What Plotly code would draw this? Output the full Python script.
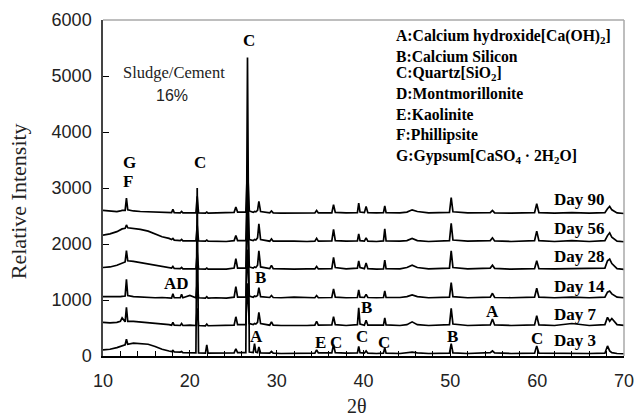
import plotly.graph_objects as go

two_theta = [10.0, 10.8, 11.6, 12.0, 12.2, 12.55, 12.7, 12.85, 13.5, 14.3,
             15.2, 16.0, 16.8, 17.6, 17.9, 18.05, 18.2, 18.9, 19.05, 19.2,
             20.0, 20.7, 20.85, 21.0, 21.8, 21.95, 22.1, 23.0, 24.2, 25.1,
             25.3, 25.5, 26.45, 26.64, 26.85, 27.3, 27.45, 27.6, 27.8, 27.95,
             28.15, 29.2, 29.4, 29.6, 30.5, 32.0, 33.5, 34.4, 34.6, 34.8,
             36.35, 36.55, 36.75, 38.0, 39.3, 39.45, 39.6, 40.1, 40.3, 40.5,
             41.5, 42.3, 42.45, 42.6, 44.2, 45.0, 45.6, 46.2, 47.5, 49.9,
             50.1, 50.3, 52.0, 54.6, 54.85, 55.1, 57.0, 59.7, 59.95, 60.2,
             62.0, 64.0, 66.0, 67.8, 68.1, 68.35, 68.6, 69.2, 70.0]

day3 = [110, 120, 150, 170, 190, 200, 300, 210, 230, 220,
        210, 170, 120, 90, 80, 100, 75, 70, 80, 60,
        60, 55, 3000, 55, 50, 200, 50, 55, 50, 55,
        130, 60, 60, 5330, 70, 60, 220, 70, 60, 160,
        55, 50, 80, 50, 45, 50, 45, 50, 110, 55,
        55, 200, 60, 50, 55, 170, 60, 50, 90, 50,
        45, 50, 150, 50, 45, 55, 70, 55, 45, 50,
        220, 55, 45, 60, 90, 55, 45, 50, 180, 50,
        45, 50, 45, 50, 180, 90, 60, 45, 40]

day7 = [600, 590, 600, 620, 680, 610, 870, 620, 620, 610,
        600, 590, 570, 560, 550, 600, 550, 545, 580, 545,
        550, 545, 850, 545, 540, 570, 540, 545, 540, 550,
        700, 560, 560, 1300, 580, 560, 580, 570, 600, 780,
        580, 550, 610, 550, 545, 540, 545, 550, 620, 550,
        555, 700, 560, 545, 560, 860, 570, 550, 640, 550,
        545, 550, 680, 555, 545, 560, 610, 560, 545, 560,
        850, 570, 545, 555, 660, 555, 545, 555, 720, 555,
        545, 580, 545, 560, 690, 620, 670, 560, 545]

day14 = [1060, 1055, 1050, 1060, 1065, 1070, 1370, 1080, 1060, 1050,
         1045, 1040, 1045, 1040, 1035, 1110, 1040, 1040, 1100, 1040,
         1080, 1040, 1330, 1040, 1035, 1060, 1035, 1040, 1035, 1050,
         1240, 1050, 1050, 1900, 1070, 1050, 1070, 1060, 1080, 1220,
         1060, 1045, 1080, 1045, 1040, 1050, 1040, 1040, 1080, 1040,
         1045, 1200, 1050, 1040, 1045, 1180, 1050, 1045, 1100, 1045,
         1040, 1045, 1160, 1045, 1045, 1060, 1090, 1060, 1040, 1050,
         1310, 1060, 1040, 1050, 1120, 1045, 1040, 1050, 1210, 1050,
         1040, 1050, 1040, 1050, 1140, 1160, 1110, 1050, 1040]

day28 = [1580, 1590, 1620, 1640, 1660, 1680, 1880, 1700, 1690, 1670,
         1650, 1620, 1600, 1580, 1570, 1600, 1565, 1560, 1580, 1555,
         1560, 1555, 1850, 1555, 1550, 1570, 1550, 1555, 1550, 1570,
         1740, 1570, 1570, 2500, 1590, 1570, 1590, 1580, 1620, 1880,
         1590, 1560, 1620, 1560, 1555, 1550, 1555, 1555, 1600, 1555,
         1560, 1760, 1580, 1555, 1570, 1700, 1580, 1560, 1660, 1560,
         1550, 1555, 1710, 1560, 1555, 1580, 1620, 1580, 1555, 1570,
         1880, 1580, 1555, 1570, 1620, 1565, 1550, 1560, 1700, 1560,
         1555, 1560, 1555, 1570, 1700, 1730, 1650, 1560, 1545]

day56 = [2160, 2180, 2220, 2250, 2270, 2280, 2340, 2290, 2280, 2260,
         2230, 2180, 2130, 2100, 2080, 2100, 2070, 2060, 2080, 2055,
         2060, 2055, 2330, 2055, 2050, 2070, 2050, 2050, 2045, 2060,
         2150, 2060, 2060, 2950, 2080, 2060, 2080, 2070, 2110, 2360,
         2080, 2050, 2090, 2050, 2045, 2050, 2045, 2050, 2100, 2050,
         2055, 2260, 2060, 2050, 2055, 2180, 2060, 2050, 2110, 2050,
         2045, 2055, 2270, 2055, 2050, 2060, 2100, 2060, 2045, 2060,
         2370, 2070, 2050, 2060, 2110, 2055, 2045, 2060, 2230, 2060,
         2045, 2060, 2045, 2060, 2150, 2200, 2120, 2050, 2040]

day90 = [2600, 2590, 2580, 2590, 2600, 2600, 2820, 2610, 2590, 2580,
         2575, 2570, 2565, 2560, 2560, 2620, 2560, 2555, 2580, 2555,
         2560, 2555, 2850, 2555, 2550, 2570, 2550, 2555, 2550, 2565,
         2660, 2570, 2570, 3400, 2590, 2565, 2580, 2575, 2600, 2760,
         2580, 2555, 2590, 2555, 2550, 2555, 2550, 2555, 2600, 2555,
         2555, 2700, 2565, 2555, 2560, 2730, 2570, 2560, 2670, 2560,
         2555, 2560, 2680, 2560, 2555, 2570, 2610, 2580, 2555, 2565,
         2830, 2575, 2555, 2560, 2600, 2555, 2550, 2560, 2720, 2560,
         2550, 2560, 2550, 2560, 2630, 2670, 2610, 2555, 2545]

series_names = ["Day 3", "Day 7", "Day 14", "Day 28", "Day 56", "Day 90"]
series_values = [day3, day7, day14, day28, day56, day90]

# day label positions (data coords)
day_label_y = [285, 750, 1250, 1770, 2270, 2790]

# peak letter labels: (text, x, y)
peak_text = ["C", "C", "G", "F", "AD", "B", "A", "E", "C", "C", "C", "B", "A", "B", "C"]
peak_x = [26.8, 21.2, 13.1, 12.9, 18.5, 28.1, 27.7, 35.0, 36.8, 39.8, 42.4, 40.4, 54.9, 50.3, 60.0]
peak_y = [5640, 3460, 3450, 3125, 1300, 1410, 340, 250, 250, 340, 250, 875, 800, 340, 320]

legend_lines = [
    "A:Calcium hydroxide[Ca(OH)<sub>2</sub>]",
    "B:Calcium Silicon",
    "C:Quartz[SiO<sub>2</sub>]",
    "D:Montmorillonite",
    "E:Kaolinite",
    "F:Phillipsite",
    "G:Gypsum[CaSO<sub>4</sub> · 2H<sub>2</sub>O]",
]
legend_y = [5700, 5345, 5036, 4679, 4321, 3946, 3554]

SERIF = "Liberation Serif, Times New Roman, serif"
SANS = "Liberation Sans, Arial, sans-serif"

fig = go.Figure()
for name, vals in zip(series_names, series_values):
    fig.add_trace(go.Scatter(x=two_theta, y=vals, mode="lines", name=name,
                             line=dict(color="black", width=1.7), showlegend=False))

ann = []
for name, yv in zip(series_names, day_label_y):
    ann.append(dict(x=61.7, y=yv, xref="x", yref="y", text="<b>%s</b>" % name,
                    showarrow=False, xanchor="left", yanchor="middle",
                    font=dict(family=SERIF, size=17, color="black")))
for t, xv, yv in zip(peak_text, peak_x, peak_y):
    ann.append(dict(x=xv, y=yv, xref="x", yref="y", text="<b>%s</b>" % t,
                    showarrow=False, xanchor="center", yanchor="middle",
                    font=dict(family=SERIF, size=17, color="black")))
for t, yv in zip(legend_lines, legend_y):
    ann.append(dict(x=43.5, y=yv, xref="x", yref="y", text="<b>%s</b>" % t,
                    showarrow=False, xanchor="left", yanchor="middle",
                    font=dict(family=SERIF, size=15.7, color="black")))
ann.append(dict(x=18.2, y=5070, xref="x", yref="y", text="Sludge/Cement",
                showarrow=False, xanchor="center", yanchor="middle",
                font=dict(family=SERIF, size=16.5, color="#222")))
ann.append(dict(x=17.95, y=4660, xref="x", yref="y", text="16%",
                showarrow=False, xanchor="center", yanchor="middle",
                font=dict(family=SANS, size=16, color="#222")))
ann.append(dict(x=-0.163, y=0.461, xref="paper", yref="paper", text="Relative Intensity",
                showarrow=False, textangle=-90, xanchor="center", yanchor="middle",
                font=dict(family=SERIF, size=22, color="#222")))
ann.append(dict(x=0.4875, y=-0.148, xref="paper", yref="paper", text="2θ",
                showarrow=False, xanchor="center", yanchor="middle", borderpad=0,
                font=dict(family=SERIF, size=20, color="#222")))

fig.update_layout(
    width=634, height=420,
    margin=dict(l=103, r=10, t=20, b=64),
    paper_bgcolor="white", plot_bgcolor="white",
    annotations=ann,
    shapes=[
        dict(type="line", xref="paper", yref="paper", x0=0, x1=1, y0=1, y1=1,
             line=dict(color="#a8a8a8", width=1.5)),
        dict(type="line", xref="paper", yref="paper", x0=1, x1=1, y0=0, y1=1,
             line=dict(color="#a8a8a8", width=1.5)),
    ],
)
fig.update_xaxes(range=[10, 70], tickmode="linear", tick0=10, dtick=10,
                 ticks="inside", ticklen=6, tickwidth=1.2, tickcolor="black",
                 minor=dict(dtick=2, ticks="inside", ticklen=5, tickwidth=1.2, tickcolor="black"),
                 showline=True, linecolor="black", linewidth=1.5, showgrid=False, zeroline=False,
                 tickfont=dict(family=SANS, size=18, color="#222"), ticklabelstandoff=8,
                 ticklabeloverflow="allow", automargin=False)
fig.update_yaxes(range=[0, 6000], tickmode="linear", tick0=0, dtick=1000,
                 ticks="inside", ticklen=6, tickwidth=1.2, tickcolor="black",
                 showline=True, linecolor="#444", linewidth=1.5, showgrid=False, zeroline=False,
                 tickfont=dict(family=SANS, size=18, color="#222"), ticklabelstandoff=6,
                 automargin=False)

fig.write_html("out.html")
